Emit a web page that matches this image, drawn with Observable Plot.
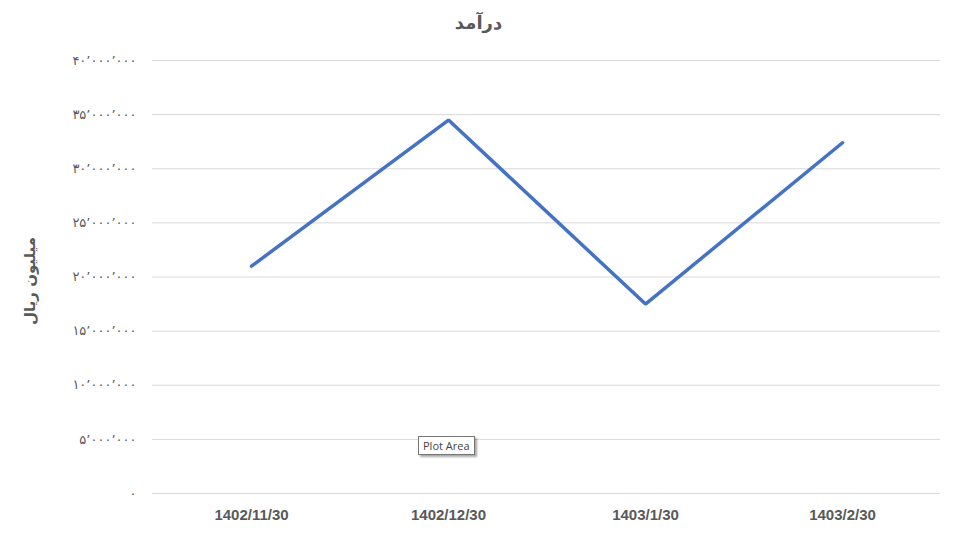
<!DOCTYPE html>
<html>
<head>
<meta charset="utf-8">
<script src="https://cdn.jsdelivr.net/npm/d3@7"></script>
<script src="https://cdn.jsdelivr.net/npm/@observablehq/plot@0.6"></script>
<style>
  html, body { margin: 0; padding: 0; background: #fff; }
  #wrap { position: relative; width: 957px; height: 540px; overflow: hidden; }
  #title { height: 45px; line-height: 46px; text-align: center; font-family: "DejaVu Sans", sans-serif; font-weight: bold; font-size: 18px; color: #595959; direction: rtl; }
  #tip { position: absolute; left: 418px; top: 436px; height: 17px; padding: 0 4px; line-height: 17px; border: 1px solid #767676; background: #fff; font-family: "Open Sans", "Liberation Sans", sans-serif; font-size: 11px; color: #444; box-shadow: 2px 2px 2px rgba(0,0,0,0.35); }
</style>
</head>
<body>
<div id="wrap">
  <div id="title">درآمد</div>
  <div id="chart"></div>
  <div id="tip">Plot Area</div>
</div>
<script>
const categories = ["1402/11/30", "1402/12/30", "1403/1/30", "1403/2/30"];
const revenue = [21000000, 34500000, 17500000, 32400000];
const yTickValues = [0, 5000000, 10000000, 15000000, 20000000, 25000000, 30000000, 35000000, 40000000];
const yTickLabels = ["۰", "۵٬۰۰۰٬۰۰۰", "۱۰٬۰۰۰٬۰۰۰", "۱۵٬۰۰۰٬۰۰۰", "۲۰٬۰۰۰٬۰۰۰", "۲۵٬۰۰۰٬۰۰۰", "۳۰٬۰۰۰٬۰۰۰", "۳۵٬۰۰۰٬۰۰۰", "۴۰٬۰۰۰٬۰۰۰"];
const yAxisTitle = "میلیون ریال";

const data = categories.map((c, i) => ({category: c, value: revenue[i]}));

const chart = Plot.plot({
  width: 957,
  height: 495,
  marginLeft: 152,
  marginRight: 17,
  marginTop: 15,
  marginBottom: 47,
  style: {background: "#fff", color: "#595959"},
  x: {type: "point", domain: categories, padding: 0.5, label: null},
  y: {domain: [0, 40000000], label: null},
  marks: [
    Plot.ruleY(yTickValues, {stroke: "#d9d9d9", strokeWidth: 1}),
    Plot.axisY({
      ticks: yTickValues,
      tickFormat: (d) => yTickLabels[yTickValues.indexOf(d)],
      tickSize: 0,
      tickPadding: 16,
      fontSize: 13,
      fontFamily: "DejaVu Sans",
      fill: "#595959",
      label: null
    }),
    Plot.axisX({
      tickSize: 0,
      tickPadding: 16,
      fontSize: 15,
      fontWeight: "bold",
      fontFamily: "Liberation Sans",
      fill: "#595959",
      label: null
    }),
    Plot.text([yAxisTitle], {
      frameAnchor: "left",
      rotate: -90,
      dx: -122,
      dy: 48,
      fontSize: 15,
      fontWeight: "bold",
      fontFamily: "DejaVu Sans",
      fill: "#595959"
    }),
    Plot.line(data, {x: "category", y: "value", stroke: "#4472C4", strokeWidth: 3.5, strokeLinejoin: "miter", strokeLinecap: "round"})
  ]
});
d3.select(chart).selectAll('g[aria-label="y-axis tick label"] text').attr("letter-spacing", 2.2);
document.getElementById("chart").appendChild(chart);
</script>
</body>
</html>
